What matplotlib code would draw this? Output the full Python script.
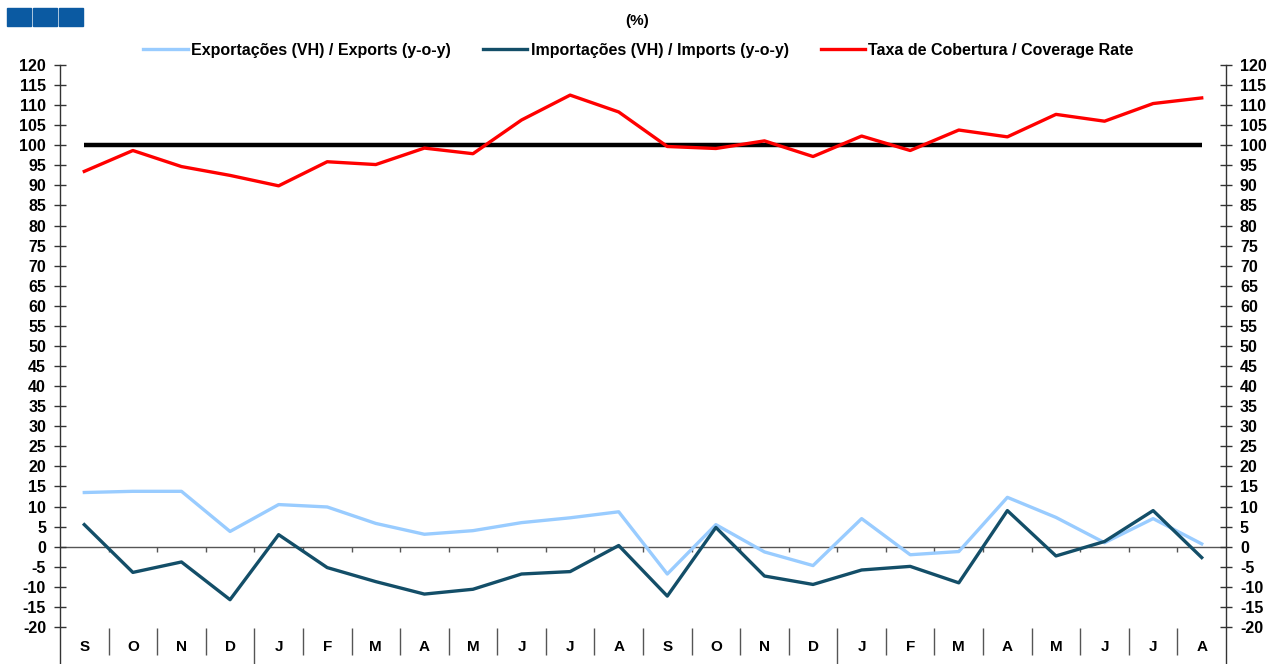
import matplotlib
matplotlib.use("Agg")
import matplotlib.pyplot as plt
from matplotlib.patches import Rectangle

plt.rcParams['font.family'] = ['Liberation Sans', 'DejaVu Sans']
plt.rcParams['font.weight'] = 'bold'

months = ["S", "O", "N", "D", "J", "F", "M", "A", "M", "J", "J", "A",
          "S", "O", "N", "D", "J", "F", "M", "A", "M", "J", "J", "A"]
exports = [13.5, 13.8, 13.8, 3.8, 10.5, 9.9, 5.8, 3.1, 4.0, 6.0, 7.2, 8.7,
           -6.8, 5.5, -1.3, -4.7, 7.0, -2.0, -1.2, 12.3, 7.3, 1.0, 7.0, 0.7]
imports = [5.5, -6.4, -3.8, -13.2, 3.0, -5.2, -8.7, -11.8, -10.6, -6.8, -6.2, 0.3,
           -12.3, 4.8, -7.3, -9.4, -5.8, -4.9, -9.0, 9.0, -2.3, 1.3, 9.0, -2.7]
coverage = [93.5, 98.7, 94.7, 92.5, 89.9, 95.9, 95.2, 99.3, 97.9, 106.3, 112.5, 108.3,
            99.7, 99.2, 101.1, 97.2, 102.3, 98.7, 103.8, 102.1, 107.7, 106.0, 110.4, 111.8]
reference = [100] * len(months)
yticks = list(range(-20, 121, 5))
year_breaks = [3, 15]  # separator after these indices

W, H = 1282, 664
fig = plt.figure(figsize=(W / 100, H / 100), dpi=100)
left, right, top = 60 / W, 1226 / W, 65 / H
ax = fig.add_axes([left, 0.0, right - left, 1 - top])

x = list(range(len(months)))
ax.plot(x, reference, color="black", lw=3.2, solid_capstyle="butt", zorder=2)
l1, = ax.plot(x, exports, color="#99ccff", lw=2.4, zorder=3,
              label="Exportações (VH) / Exports (y-o-y)")
l2, = ax.plot(x, imports, color="#134e68", lw=2.4, zorder=3,
              label="Importações (VH) / Imports (y-o-y)")
l3, = ax.plot(x, coverage, color="#ff0000", lw=2.4, zorder=3,
              label="Taxa de Cobertura / Coverage Rate")

ymin = -20 - (664 - 627) / 4.014
ax.set_ylim(ymin, 120.0)
ax.set_xlim(-0.5, len(months) - 0.5)

# zero axis line
ax.axhline(0, color="#555555", lw=1.0, zorder=1)
bounds = [i + 0.5 for i in range(len(months) - 1)]
ax.vlines(bounds, -1.2, 0, color="#555555", lw=1.0)

# category separators and labels
for i, b in enumerate(bounds):
    if i in year_breaks:
        ax.vlines(b, ymin, -20.2, color="#555555", lw=1.0)
    else:
        ax.vlines(b, -20.2, -27.0, color="#555555", lw=1.0)
for i, m in enumerate(months):
    ax.text(i, -25.0, m, ha="center", va="center", fontsize=11, fontweight="bold")

ax.set_xticks([])
ax.set_yticks(yticks)
ax.set_yticklabels([str(v) for v in yticks])
ax.tick_params(axis="y", direction="inout", length=8, width=1, color="#333333",
               left=True, right=True, labelleft=True, labelright=True,
               labelsize=11.5, pad=6)
for s in ["top", "bottom"]:
    ax.spines[s].set_visible(False)
for s in ["left", "right"]:
    ax.spines[s].set_color("#333333")
    ax.spines[s].set_linewidth(1.0)
ax.patch.set_alpha(0)

# legend
fig.legend(handles=[l1, l2, l3], loc="center", bbox_to_anchor=(0.498, 1 - 50 / H),
           ncol=3, frameon=False, fontsize=11.5, handlelength=2.8,
           handletextpad=0.2, columnspacing=2.0)
fig.text(0.497, 1 - 21 / H, "(%)", ha="center", va="center", fontsize=11,
         fontweight="bold")

# logo squares
for x0 in [7, 33, 59]:
    fig.patches.append(Rectangle((x0 / W, 1 - 26 / H), 24 / W, 18 / H,
                                 transform=fig.transFigure, color="#0b5aa2"))

fig.savefig("out.png", dpi=100)
